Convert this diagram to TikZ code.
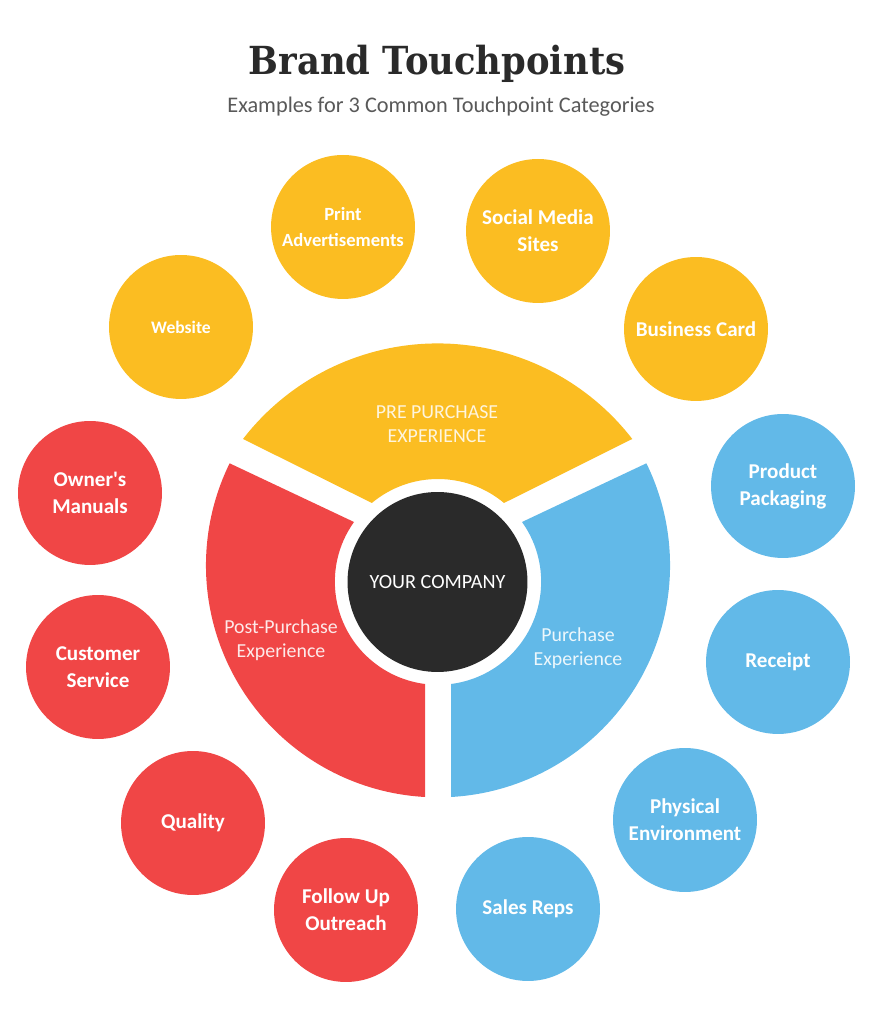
\documentclass[tikz,border=0pt]{standalone}
\usepackage{fontspec}
\setmainfont{Carlito}[Ligatures=TeXOff]
\newfontfamily\slabfont{DejaVu Serif}
\usepackage{tikz}

\definecolor{preyellow}{HTML}{FBBD22}
\definecolor{postred}{HTML}{F04646}
\definecolor{buyblue}{HTML}{62B9E8}
\definecolor{corebg}{HTML}{2A2A2A}

\tikzset{
  spot/.style={circle, minimum size=2.88cm, inner sep=0pt, text=white, align=center,
    font=\bfseries\fontsize{12}{15.3}\selectfont},
  prespot/.style={spot, fill=preyellow},
  postspot/.style={spot, fill=postred},
  buyspot/.style={spot, fill=buyblue},
  seglabel/.style={align=center, font=\fontsize{11.3}{13.6}\selectfont}
}

\begin{document}
\begin{tikzpicture}[x=0.02cm, y=0.02cm]
  \useasboundingbox (0,0) rectangle (871,1030);
  \node (title) at (437,966) {\scalebox{0.915}[1]{\slabfont\bfseries\fontsize{22}{26}\selectfont\color{corebg}Brand Touchpoints}};
  \node (subtitle) at (441,923) {\fontsize{12.7}{16}\selectfont\color{black!65}Examples for 3 Common Touchpoint Categories};

  \fill[preyellow] (243,591) arc[start angle=142.3, end angle=37.7, radius=246]
    -- (504,527) arc[start angle=50.1, end angle=129.9, radius=103] -- cycle;
  \fill[postred] (425,346) -- (425,233) arc[start angle=266.8, end angle=153.9, radius=232]
    -- (354,508) arc[start angle=144.5, end angle=262.7, radius=103] -- cycle;
  \fill[buyblue] (451,346) -- (451,233) arc[start angle=273.2, end angle=386.1, radius=232]
    -- (522,508) arc[start angle=35.5, end angle=-82.7, radius=103] -- cycle;

  \node[circle, fill=corebg, minimum size=3.6cm, inner sep=0pt, text=white,
    font=\fontsize{11.5}{14}\selectfont] (company) at (437.5,448) {YOUR COMPANY};
  \node[seglabel, text=preyellow!15] (prelabel) at (437,606) {PRE PURCHASE\\EXPERIENCE};
  \node[seglabel, text=postred!12] (postlabel) at (281,390) {Post-Purchase\\Experience};
  \node[seglabel, text=buyblue!12] (buylabel) at (578,382) {Purchase\\Experience};

  \node[prespot, font=\bfseries\fontsize{10}{15}\selectfont] (website) at (181,703) {Website};
  \node[prespot, font=\bfseries\fontsize{10.6}{15}\selectfont] (print) at (343,803) {Print\\Advertisements};
  \node[prespot] (social) at (538,799) {Social Media\\Sites};
  \node[prespot] (card) at (696,701) {Business Card};

  \node[buyspot] (packaging) at (783,544) {Product\\Packaging};
  \node[buyspot] (receipt) at (778,368) {Receipt};
  \node[buyspot] (environment) at (685,210) {Physical\\Environment};
  \node[buyspot] (salesreps) at (528,121) {Sales Reps};

  \node[postspot] (followup) at (346,120) {Follow Up\\Outreach};
  \node[postspot] (quality) at (193,207) {Quality};
  \node[postspot] (service) at (98,363) {Customer\\Service};
  \node[postspot] (manuals) at (90,537) {Owner's\\Manuals};
\end{tikzpicture}
\end{document}
